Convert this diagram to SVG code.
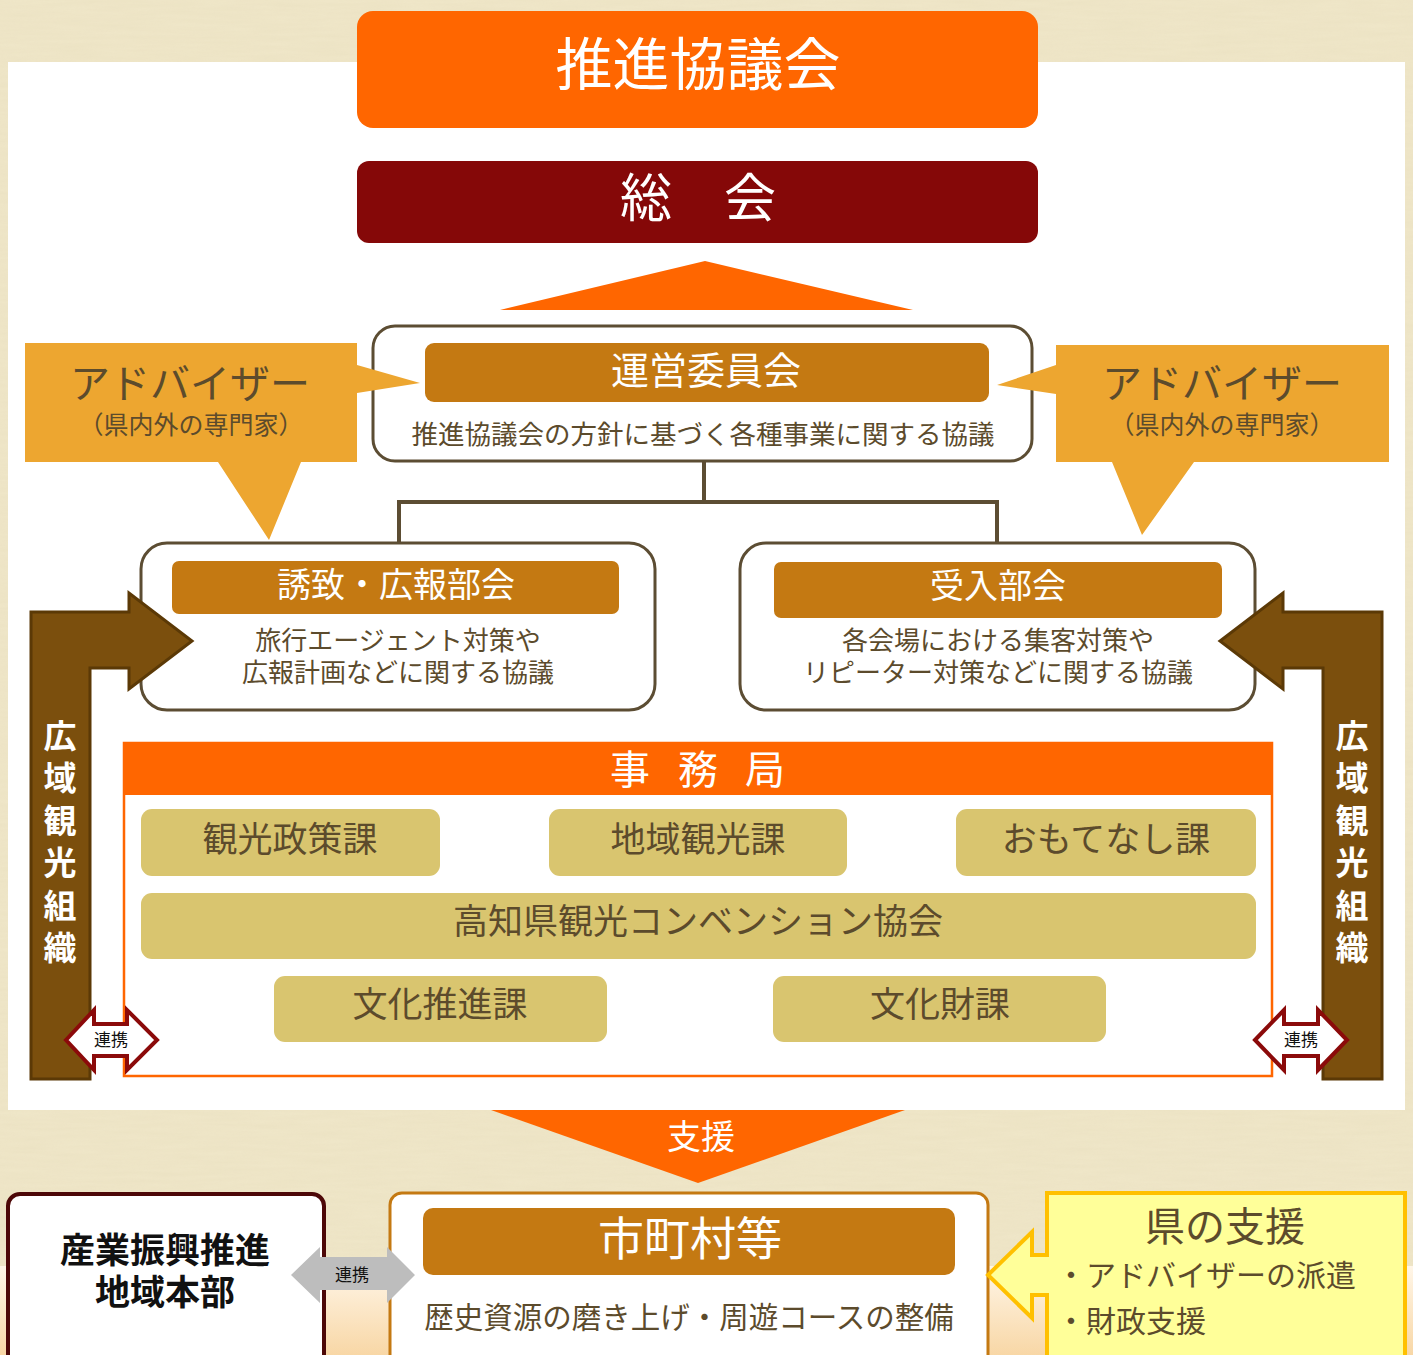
<svg xmlns="http://www.w3.org/2000/svg" width="1413" height="1355" viewBox="0 0 1413 1355">
<defs>
<style>
text{font-family:"Liberation Sans","Noto Sans CJK JP",sans-serif;}
.w{fill:#ffffff;text-anchor:middle;}
.d{fill:#5c4b2c;text-anchor:middle;}
.hdr{fill:#c47912;}
.sec{fill:#d9c56f;}
.frame{fill:#ffffff;stroke:#5c4d33;stroke-width:3;}
.adv{fill:#eda630;}
.brown{fill:#7b4f0d;stroke:#5b3906;stroke-width:3;stroke-linejoin:miter;}
.link{fill:#ffffff;stroke:#8b0a0a;stroke-width:4;stroke-linejoin:miter;}
.lt{font-size:17px;fill:#111;text-anchor:middle;}
</style>
<linearGradient id="peach" x1="0" y1="0" x2="0" y2="1">
<stop offset="0" stop-color="#fff6e8"/>
<stop offset="1" stop-color="#f8d7a6"/>
</linearGradient>
<filter id="tex" x="0" y="0" width="100%" height="100%">
<feTurbulence type="fractalNoise" baseFrequency="0.02 0.25" numOctaves="3" seed="4"/>
<feColorMatrix type="matrix" values="0 0 0 0 0.72  0 0 0 0 0.64  0 0 0 0 0.42  0 0 0 0.35 -0.05"/>
</filter>
</defs>

<!-- background -->
<rect x="0" y="0" width="1413" height="1355" fill="#efe6c8"/>
<rect x="0" y="0" width="1413" height="1355" filter="url(#tex)" opacity="0.6"/>
<rect x="0" y="1266" width="1413" height="89" fill="url(#peach)"/>
<rect x="8" y="62" width="1397" height="1048" fill="#ffffff"/>

<g id="connectors">
<polygon points="500,310 705,261 913,310" fill="#ff6600"/>
<path d="M704,461 V502 M399,543 V502 H997 V543" fill="none" stroke="#5c4d33" stroke-width="4"/>
</g>

<g id="suishin">
<rect x="357" y="11" width="681" height="117" rx="16" fill="#ff6600"/>
<text x="698" y="85" class="w" font-size="57">推進協議会</text>
</g>

<g id="sokai">
<rect x="357" y="161" width="681" height="82" rx="12" fill="#850808"/>
<text x="698" y="217" class="w" font-size="52">総　会</text>
</g>

<g id="unei">
<rect x="373" y="326" width="659" height="135" rx="22" class="frame"/>
<rect x="425" y="343" width="564" height="59" rx="9" class="hdr"/>
<text x="706" y="384" class="w" font-size="38">運営委員会</text>
<text x="703" y="444" class="d" font-size="26.5">推進協議会の方針に基づく各種事業に関する協議</text>
</g>

<g id="yuchi">
<rect x="141" y="543" width="514" height="167" rx="26" class="frame"/>
<rect x="172" y="561" width="447" height="53" rx="7" class="hdr"/>
<text x="396" y="597" class="w" font-size="34">誘致・広報部会</text>
<text x="398" y="650" class="d" font-size="26">旅行エージェント対策や</text>
<text x="398" y="682" class="d" font-size="26">広報計画などに関する協議</text>
</g>

<g id="ukeire">
<rect x="740" y="543" width="515" height="167" rx="26" class="frame"/>
<rect x="774" y="562" width="448" height="56" rx="7" class="hdr"/>
<text x="998" y="598" class="w" font-size="34">受入部会</text>
<text x="998" y="650" class="d" font-size="26">各会場における集客対策や</text>
<text x="998" y="682" class="d" font-size="26">リピーター対策などに関する協議</text>
</g>

<g id="advisor-left">
<path d="M25,343 H357 V365 L420,383 L357,393 V462 H301 L269,540 L218,462 H25 Z" class="adv"/>
<text x="190" y="398" class="d" font-size="40">アドバイザー</text>
<text x="191" y="434" class="d" font-size="25">（県内外の専門家）</text>
</g>

<g id="advisor-right">
<path d="M1056,345 H1389 V462 H1194 L1142,535 L1112,462 H1056 V394 L997,385 L1056,365 Z" class="adv"/>
<text x="1222" y="398" class="d" font-size="40">アドバイザー</text>
<text x="1222" y="434" class="d" font-size="25">（県内外の専門家）</text>
</g>

<g id="jimukyoku">
<rect x="124" y="743" width="1148" height="333" fill="#ffffff" stroke="#ff6600" stroke-width="2.5"/>
<rect x="123" y="742" width="1150" height="53" fill="#ff6600"/>
<text x="630" y="784" class="w" font-size="40">事</text>
<text x="698" y="784" class="w" font-size="40">務</text>
<text x="765" y="784" class="w" font-size="40">局</text>
<rect x="141" y="809" width="299" height="67" rx="11" class="sec"/>
<text x="290" y="852" class="d" font-size="35">観光政策課</text>
<rect x="549" y="809" width="298" height="67" rx="11" class="sec"/>
<text x="698" y="852" class="d" font-size="35">地域観光課</text>
<rect x="956" y="809" width="300" height="67" rx="11" class="sec"/>
<text x="1106" y="852" class="d" font-size="35">おもてなし課</text>
<rect x="141" y="893" width="1115" height="66" rx="11" class="sec"/>
<text x="698" y="934" class="d" font-size="35">高知県観光コンベンション協会</text>
<rect x="274" y="976" width="333" height="66" rx="11" class="sec"/>
<text x="440" y="1017" class="d" font-size="35">文化推進課</text>
<rect x="773" y="976" width="333" height="66" rx="11" class="sec"/>
<text x="940" y="1017" class="d" font-size="35">文化財課</text>
</g>

<g id="koiki-left">
<path d="M31,1079 L31,612 L129,612 L129,593 L192,641 L129,689 L129,668 L90,668 L90,1079 Z" class="brown"/>
<text class="w" font-size="33" font-weight="bold"><tspan x="60" y="748">広</tspan><tspan x="60" y="790">域</tspan><tspan x="60" y="833">観</tspan><tspan x="60" y="875">光</tspan><tspan x="60" y="918">組</tspan><tspan x="60" y="960">織</tspan></text>
</g>

<g id="koiki-right">
<path d="M1382,1079 L1382,612 L1283,612 L1283,593 L1220,641 L1283,689 L1283,668 L1323,668 L1323,1079 Z" class="brown"/>
<text class="w" font-size="33" font-weight="bold"><tspan x="1352" y="748">広</tspan><tspan x="1352" y="790">域</tspan><tspan x="1352" y="833">観</tspan><tspan x="1352" y="875">光</tspan><tspan x="1352" y="918">組</tspan><tspan x="1352" y="960">織</tspan></text>
</g>

<g id="renkei-left">
<polygon points="66,1040 94,1010 94,1024 127,1024 127,1010 157,1040 127,1070 127,1056 94,1056 94,1070" class="link"/>
<text x="111" y="1046" class="lt">連携</text>
</g>

<g id="renkei-right">
<polygon points="1255,1040 1284,1010 1284,1024 1318,1024 1318,1010 1347,1040 1318,1070 1318,1056 1284,1056 1284,1070" class="link"/>
<text x="1301" y="1046" class="lt">連携</text>
</g>

<g id="shien">
<polygon points="491,1110 905,1110 698,1183" fill="#ff6600"/>
<text x="701" y="1149" class="w" font-size="34">支援</text>
</g>

<g id="sangyo">
<rect x="8" y="1194" width="316" height="180" rx="12" fill="#ffffff" stroke="#4d0808" stroke-width="4"/>
<text x="165" y="1263" font-size="35" font-weight="bold" fill="#111" text-anchor="middle">産業振興推進</text>
<text x="165" y="1305" font-size="35" font-weight="bold" fill="#111" text-anchor="middle">地域本部</text>
</g>

<g id="shichoson">
<rect x="390" y="1193" width="598" height="180" rx="12" fill="#ffffff" stroke="#c47912" stroke-width="3"/>
<rect x="423" y="1208" width="532" height="67" rx="10" class="hdr"/>
<text x="690" y="1255" class="w" font-size="46">市町村等</text>
<text x="689" y="1328" class="d" font-size="29.5">歴史資源の磨き上げ・周遊コースの整備</text>
</g>

<g id="renkei-bottom">
<polygon points="291,1275 320,1247 320,1257 387,1257 387,1247 415,1275 387,1303 387,1290 320,1290 320,1303" fill="#bdbdbd"/>
<text x="352" y="1281" class="lt" fill="#333">連携</text>
</g>

<g id="ken-shien">
<path d="M1047,1193 H1405 V1370 H1047 V1295 H1032 V1318 L988,1275 L1032,1232 V1255 H1047 Z" fill="#ffff99" stroke="#ffc000" stroke-width="4"/>
<text x="1225" y="1241" class="d" font-size="40">県の支援</text>
<text x="1056" y="1286" fill="#5c4b2c" font-size="30">・アドバイザーの派遣</text>
<text x="1056" y="1332" fill="#5c4b2c" font-size="30">・財政支援</text>
</g>
</svg>
